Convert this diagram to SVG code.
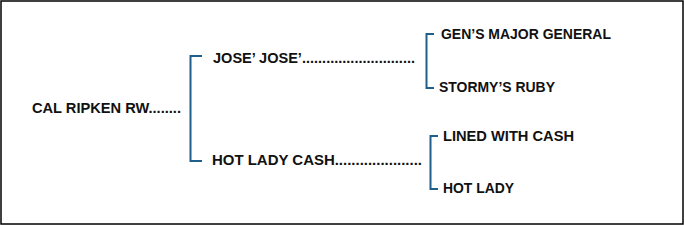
<svg xmlns="http://www.w3.org/2000/svg" width="684" height="225" viewBox="0 0 684 225">
<style>
.t{font-family:"Liberation Sans",Arial,sans-serif;font-weight:bold;font-size:15px;fill:#111}
.b{fill:none;stroke:#1f5f8b;stroke-width:2}
</style>
<rect x="1" y="1" width="682" height="223" fill="#fff" stroke="#000" stroke-width="1.5"/>
<g id="connectors">
<path class="b" d="M202,56 H190.5 V161 H202"/>
<path class="b" d="M434,34 H426.5 V88 H434"/>
<path class="b" d="M438,136 H430.5 V189 H438"/>
</g>
<g id="cal"><text class="t" x="32" y="113" textLength="149" lengthAdjust="spacingAndGlyphs">CAL RIPKEN RW........</text></g>
<g id="jose"><text class="t" x="213" y="63" textLength="202" lengthAdjust="spacingAndGlyphs">JOSE’ JOSE’............................</text></g>
<g id="hotladycash"><text class="t" x="212" y="165" textLength="210" lengthAdjust="spacingAndGlyphs">HOT LADY CASH.....................</text></g>
<g id="gens"><text class="t" x="441" y="39" textLength="170" lengthAdjust="spacingAndGlyphs">GEN’S MAJOR GENERAL</text></g>
<g id="stormy"><text class="t" x="439" y="92" textLength="116" lengthAdjust="spacingAndGlyphs">STORMY’S RUBY</text></g>
<g id="lined"><text class="t" x="443" y="141" textLength="131" lengthAdjust="spacingAndGlyphs">LINED WITH CASH</text></g>
<g id="hotlady"><text class="t" x="443" y="193" textLength="71" lengthAdjust="spacingAndGlyphs">HOT LADY</text></g>
</svg>
